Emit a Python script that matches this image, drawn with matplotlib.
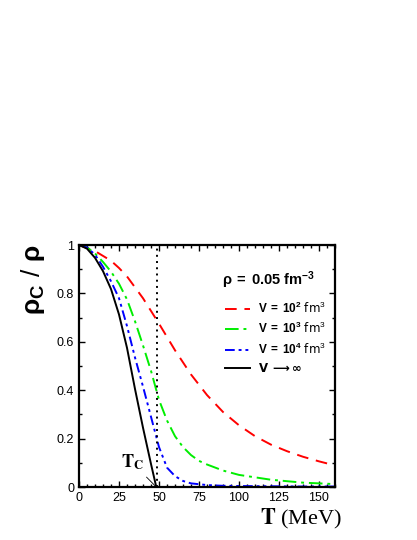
import matplotlib
matplotlib.use("Agg")
import matplotlib.pyplot as plt
from matplotlib.lines import Line2D
from matplotlib.ticker import MultipleLocator

plt.rcParams['mathtext.fontset'] = 'custom'
plt.rcParams['mathtext.rm'] = 'Liberation Sans'
plt.rcParams['mathtext.bf'] = 'Liberation Sans:bold'
plt.rcParams['mathtext.it'] = 'Liberation Sans:italic'

# Data
T_inf = [0, 5, 10, 15, 20, 25, 30, 35, 40, 45, 48.3]
R_inf = [1.0, 0.985, 0.947, 0.892, 0.818, 0.713, 0.575, 0.405, 0.245, 0.095, 0.0]

T_v4 = [0, 5, 10, 15, 20, 25, 30, 35, 40, 45, 50, 55, 60, 65, 70, 80, 90, 100, 120, 140, 160]
R_v4 = [1.0, 0.99, 0.96, 0.91, 0.85, 0.78, 0.665, 0.535, 0.415, 0.29, 0.165, 0.08, 0.045,
        0.025, 0.015, 0.008, 0.005, 0.004, 0.003, 0.002, 0.002]

T_v3 = [0, 5, 10, 15, 20, 25, 30, 35, 40, 45, 50, 55, 60, 65, 70, 75, 80, 90, 100, 110,
        120, 130, 140, 150, 160]
R_v3 = [1.0, 0.99, 0.965, 0.93, 0.89, 0.84, 0.775, 0.685, 0.585, 0.48, 0.36, 0.275, 0.21,
        0.165, 0.132, 0.108, 0.093, 0.068, 0.05, 0.04, 0.03, 0.024, 0.018, 0.015, 0.012]

T_v2 = [0, 10, 20, 25, 30, 40, 50, 60, 70, 80, 90, 100, 110, 120, 130, 140, 150, 160]
R_v2 = [1.0, 0.975, 0.935, 0.905, 0.87, 0.78, 0.675, 0.565, 0.465, 0.38, 0.31, 0.255, 0.21,
        0.175, 0.148, 0.125, 0.106, 0.089]

T_c = 48.5
xticks = [0, 25, 50, 75, 100, 125, 150]
yticks = [0, 0.2, 0.4, 0.6, 0.8, 1.0]
ytick_labels = ['0', '0.2', '0.4', '0.6', '0.8', '1']

fig = plt.figure(figsize=(4.17, 5.40), dpi=100)
ax = fig.add_axes([79/417, 1-487/540, 256/417, 242/540])

ax.plot(T_v2, R_v2, color='#ff0000', lw=1.4, dashes=(6, 4))
ax.plot(T_v3, R_v3, color='#00ee00', lw=1.4, dashes=(7, 2.5, 1.5, 2.5))
ax.plot(T_v4, R_v4, color='#0000ff', lw=1.4, dashes=(5, 2, 1.5, 2, 1.5, 2))
ax.plot(T_inf, R_inf, color='black', lw=1.4)
ax.axvline(T_c, color='black', lw=1.4, ls=(0, (1, 2.2)))

ax.set_xlim(0, 160)
ax.set_ylim(0, 1)
ax.set_xticks(xticks)
ax.set_yticks(yticks)
ax.set_yticklabels(ytick_labels)
ax.xaxis.set_minor_locator(MultipleLocator(5))
ax.yaxis.set_minor_locator(MultipleLocator(0.1))
ax.tick_params(which='both', direction='in', top=True, right=True, width=1.0,
               labelsize=9)
ax.tick_params(which='major', length=4)
ax.tick_params(which='minor', length=2.5)
for lbl in ax.get_xticklabels() + ax.get_yticklabels():
    lbl.set_fontfamily('Liberation Sans')
for s in ax.spines.values():
    s.set_linewidth(1.6)

ax.annotate(r'$\mathbf{T_C}$', xy=(48.3, 0.0), xytext=(26, 0.08),
            fontsize=13, math_fontfamily='stix',
            arrowprops=dict(arrowstyle='-', lw=0.6, color='black', shrinkA=2, shrinkB=0))

handles = [
    Line2D([], [], color='#ff0000', lw=1.4, dashes=(6, 4)),
    Line2D([], [], color='#00ee00', lw=1.4, dashes=(7, 2.5, 1.5, 2.5)),
    Line2D([], [], color='#0000ff', lw=1.4, dashes=(5, 2, 1.5, 2, 1.5, 2)),
    Line2D([], [], color='black', lw=1.4),
]
labels = [r'$\mathbf{V\;=\;10^2}$ fm$^3$', r'$\mathbf{V\;=\;10^3}$ fm$^3$',
          r'$\mathbf{V\;=\;10^4}$ fm$^3$', r'$\mathbf{V\;\longrightarrow\infty}$']
leg = ax.legend(handles, labels, loc='upper left', bbox_to_anchor=(0.55, 0.79),
                frameon=False, fontsize=8.5, handlelength=2.2, handletextpad=0.6,
                labelspacing=0.45, borderaxespad=0)
leg.get_texts()[3].set_math_fontfamily('dejavusans')
ax.text(0.56, 0.855, r'$\mathbf{\rho}\;\mathbf{=\;0.05\ fm^{-3}}$', transform=ax.transAxes,
        fontsize=10.5, ha='left', va='center')

fig.text(33/417, 1-280/540, r'$\mathbf{\rho_C}$ $/\ \mathbf{\rho}$', rotation=90,
         fontsize=19, ha='center', va='center')
fig.text(342/417, 1-519/540, r'$\mathbf{T}$ (MeV)', fontsize=16,
         family='Liberation Serif', math_fontfamily='stix', ha='right', va='center')

fig.savefig('out.png', dpi=100)
